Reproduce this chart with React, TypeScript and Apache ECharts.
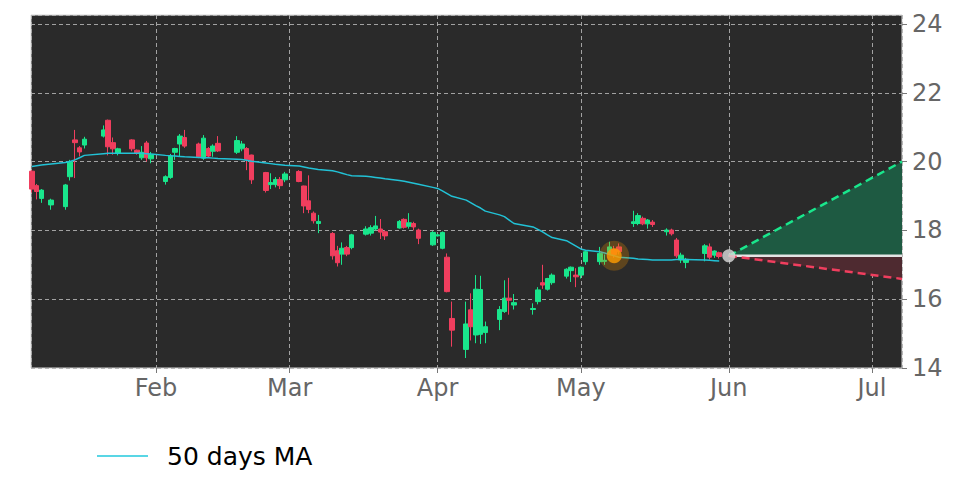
import { useEffect, useRef } from "react";
import * as echarts from "echarts";

// trading days shown in the chart (2025)
const dates = [
  "2025-01-06", "2025-01-07", "2025-01-08", "2025-01-10", "2025-01-13", "2025-01-14", "2025-01-15", "2025-01-16", "2025-01-17",
  "2025-01-21", "2025-01-22", "2025-01-23", "2025-01-24", "2025-01-27", "2025-01-28", "2025-01-29", "2025-01-30", "2025-01-31",
  "2025-02-03", "2025-02-04", "2025-02-05", "2025-02-06", "2025-02-07", "2025-02-10", "2025-02-11", "2025-02-12", "2025-02-13",
  "2025-02-14", "2025-02-18", "2025-02-19", "2025-02-20", "2025-02-21", "2025-02-24", "2025-02-25", "2025-02-26", "2025-02-27",
  "2025-02-28", "2025-03-03", "2025-03-04", "2025-03-05", "2025-03-06", "2025-03-07", "2025-03-10", "2025-03-11", "2025-03-12",
  "2025-03-13", "2025-03-14", "2025-03-17", "2025-03-18", "2025-03-19", "2025-03-20", "2025-03-21", "2025-03-24", "2025-03-25",
  "2025-03-26", "2025-03-27", "2025-03-28", "2025-03-31", "2025-04-01", "2025-04-02", "2025-04-03", "2025-04-04", "2025-04-07",
  "2025-04-08", "2025-04-09", "2025-04-10", "2025-04-11", "2025-04-14", "2025-04-15", "2025-04-16", "2025-04-17", "2025-04-21",
  "2025-04-22", "2025-04-23", "2025-04-24", "2025-04-25", "2025-04-28", "2025-04-29", "2025-04-30", "2025-05-01", "2025-05-02",
  "2025-05-05", "2025-05-06", "2025-05-07", "2025-05-08", "2025-05-09", "2025-05-12", "2025-05-13", "2025-05-14", "2025-05-15",
  "2025-05-16", "2025-05-19", "2025-05-20", "2025-05-21", "2025-05-22", "2025-05-23", "2025-05-27", "2025-05-28", "2025-05-29",
  "2025-05-30",
];

const opens = [
  19.72, 19.3, 18.93, 18.74, 18.69, 19.56, 20.63, 20.4, 20.48,
  20.74, 21.2, 20.55, 20.25, 20.63, 20.33, 20.11, 20.54, 20.08,
  19.42, 19.54, 20.27, 20.51, 20.7, 20.51, 20.1, 20.38, 20.3,
  20.53, 20.27, 20.37, 20.38, 20.19, 19.68, 19.33, 19.33, 19.48,
  19.47, 19.71, 19.29, 18.86, 18.5, 18.2, 17.91, 17.41, 17.31,
  17.5, 17.5, 17.89, 17.92, 18.04, 18.04, 17.96, 18.07, 18.32,
  18.12, 18.2, 18.01, 17.58, 17.84, 17.48, 17.22, 15.44, 14.54,
  15.69, 14.96, 14.98, 15.03, 15.41, 15.64, 16.03, 15.83, 15.7,
  15.93, 16.48, 16.29, 16.48, 16.67, 16.83, 16.7, 16.7, 17.09,
  17.09, 17.1, 17.33, 17.45, 17.52, 18.2, 18.2, 18.35, 18.19,
  18.24, 17.96, 18.01, 17.72, 17.14, 17.07, 17.33, 17.52, 17.28,
  17.35,
];

const closes = [
  19.2, 19.13, 19.17, 18.88, 19.32, 20.0, 20.55, 20.28, 20.65,
  20.92, 20.43, 20.37, 20.37, 20.37, 20.25, 20.27, 20.11, 20.2,
  19.56, 20.16, 20.38, 20.74, 20.45, 20.14, 20.68, 20.16, 20.45,
  20.31, 20.61, 20.51, 20.05, 19.47, 19.16, 19.39, 19.48, 19.3,
  19.64, 19.42, 18.71, 18.61, 18.28, 18.26, 17.26, 17.06, 17.48,
  17.31, 17.87, 18.04, 18.08, 18.13, 17.95, 17.84, 18.26, 18.09,
  18.22, 18.1, 17.77, 17.94, 17.87, 17.94, 16.22, 15.1, 15.28,
  15.2, 16.29, 16.28, 15.2, 15.7, 16.03, 15.97, 15.9, 15.73,
  16.27, 16.41, 16.6, 16.7, 16.87, 16.93, 16.65, 16.93, 17.38,
  17.33, 17.13, 17.52, 17.3, 17.38, 18.25, 18.43, 18.19, 18.3,
  18.17, 18.01, 17.9, 17.26, 17.28, 17.16, 17.55, 17.22, 17.4,
  17.24,
];

const lows = [
  19.1, 18.9, 18.8, 18.6, 18.6, 19.45, 19.52, 20.15, 20.38,
  20.7, 20.18, 20.2, 20.18, 20.3, 20.2, 20.05, 20.0, 19.95,
  19.33, 19.5, 20.05, 20.14, 20.4, 20.1, 20.05, 20.12, 20.14,
  20.28, 20.22, 20.3, 19.75, 19.35, 19.1, 19.2, 19.25, 19.2,
  19.4, 19.4, 18.5, 18.5, 18.2, 17.92, 17.15, 16.95, 17.0,
  17.25, 17.45, 17.85, 17.85, 18.0, 17.75, 17.72, 18.05, 18.05,
  18.05, 18.0, 17.6, 17.55, 17.82, 17.45, 16.2, 14.62, 14.29,
  14.8, 14.72, 14.7, 14.72, 15.1, 15.6, 15.55, 15.7, 15.55,
  15.85, 16.3, 16.25, 16.42, 16.6, 16.5, 16.35, 16.6, 17.0,
  17.0, 17.0, 17.3, 17.2, 17.3, 18.1, 18.15, 18.15, 18.05,
  18.1, 17.85, 17.85, 17.2, 17.05, 16.9, 17.1, 17.15, 17.2,
  17.18,
];

const highs = [
  19.75, 19.35, 19.2, 18.92, 19.35, 20.05, 20.92, 20.45, 20.72,
  21.05, 21.22, 20.7, 20.4, 20.65, 20.35, 20.45, 20.6, 20.28,
  19.6, 20.22, 20.4, 20.8, 20.92, 20.55, 20.77, 20.42, 20.5,
  20.74, 20.74, 20.6, 20.42, 20.2, 19.7, 19.66, 19.55, 19.55,
  19.7, 19.75, 19.3, 19.6, 18.55, 18.45, 17.95, 17.55, 17.65,
  17.55, 17.9, 18.12, 18.15, 18.42, 18.33, 18.0, 18.3, 18.35,
  18.5, 18.25, 18.05, 17.98, 17.9, 17.97, 17.33, 15.93, 15.93,
  16.17, 16.7, 16.68, 15.35, 15.8, 16.55, 16.62, 16.15, 15.88,
  16.35, 17.0, 16.62, 16.75, 16.9, 16.95, 16.9, 16.95, 17.42,
  17.52, 17.3, 17.67, 17.55, 17.62, 18.57, 18.5, 18.4, 18.33,
  18.3, 18.06, 18.05, 17.78, 17.35, 17.2, 17.6, 17.62, 17.42,
  17.38,
];

// 50 days moving average, one value per trading day
const maValues = [
  19.86, 19.88, 19.9, 19.93, 19.97, 20.0, 20.05, 20.11, 20.18,
  20.23, 20.24, 20.24, 20.24, 20.24, 20.24, 20.24, 20.23, 20.22,
  20.18, 20.17, 20.16, 20.15, 20.14, 20.12, 20.11, 20.11, 20.1,
  20.09, 20.07, 20.06, 20.04, 20.01, 19.96, 19.94, 19.92, 19.91,
  19.89, 19.87, 19.84, 19.81, 19.79, 19.77, 19.73, 19.7, 19.66,
  19.62, 19.59, 19.57, 19.56, 19.54, 19.52, 19.5, 19.45, 19.43,
  19.4, 19.37, 19.34, 19.25, 19.22, 19.15, 19.07, 18.99, 18.88,
  18.8, 18.72, 18.65, 18.56, 18.45, 18.4, 18.3, 18.2, 18.1,
  18.03, 17.96, 17.87, 17.79, 17.7, 17.62, 17.54, 17.46, 17.42,
  17.38, 17.34, 17.3, 17.26, 17.22, 17.19, 17.17, 17.16, 17.15,
  17.14, 17.14, 17.14, 17.15, 17.15, 17.15, 17.14, 17.13, 17.12,
  17.11,
];

const monthLabels = ["Jan", "Feb", "Mar", "Apr", "May", "Jun", "Jul", "Aug", "Sep", "Oct", "Nov", "Dec"];

// signal marker on the MA and the projection cone
const signalDate = "2025-05-08";
const signalValue = 17.26;
const coneStartDate = "2025-06-01";
const coneBase = 17.26;
const coneUpper = 20.0;
const coneLower = 16.59;

const X_MIN = Date.UTC(2025, 0, 5, 19, 40);
const X_MAX = Date.UTC(2025, 6, 7, 7);
const DAY = 86400000;

const ts = (d: string) => Date.parse(d + "T00:00:00Z");

const GREEN = "#19e68c";
const RED = "#f03e5e";
const FONT = "DejaVu Sans";

export default function App() {
  const ref = useRef<HTMLDivElement | null>(null);

  useEffect(() => {
    const el = ref.current!;
    const chart = echarts.init(el, undefined, { renderer: "svg" });

    const candles = dates.map((d, i) => [ts(d), opens[i], closes[i], lows[i], highs[i]]);
    const ma = dates.map((d, i) => [ts(d), maValues[i]]);
    const c0 = ts(coneStartDate);

    chart.setOption({
      animation: false,
      useUTC: true,
      backgroundColor: "#ffffff",
      textStyle: { fontFamily: FONT },
      grid: {
        left: 31, top: 15, width: 871, height: 353,
        show: true, backgroundColor: "#2a2a2a", borderColor: "#d4d4d4", borderWidth: 1,
      },
      xAxis: {
        type: "time",
        min: X_MIN,
        max: X_MAX,
        minInterval: 28 * DAY,
        maxInterval: 31 * DAY,
        axisLine: { show: false },
        axisTick: { show: true, length: 5, lineStyle: { color: "#777" } },
        axisLabel: {
          fontSize: 24, color: "#666", fontFamily: FONT, margin: 8,
          formatter: (v: number) => monthLabels[new Date(v).getUTCMonth()],
        },
        splitLine: { show: true, lineStyle: { color: "#b0b0b0", type: [4, 3], width: 0.9 } },
      },
      yAxis: {
        type: "value",
        position: "right",
        min: 14,
        max: 24.26,
        interval: 2,
        axisLine: { show: false },
        axisTick: { show: true, length: 5, lineStyle: { color: "#777" } },
        axisLabel: { fontSize: 24, color: "#666", fontFamily: FONT, margin: 10, showMaxLabel: false },
        splitLine: { show: true, lineStyle: { color: "#b0b0b0", type: [4, 3], width: 0.9 } },
      },
      graphic: [
        { type: "line", shape: { x1: 97, y1: 456, x2: 148, y2: 456 }, style: { stroke: "#22c9dc", lineWidth: 1.5 } },
        {
          type: "text", x: 167, y: 456,
          style: { text: "50 days MA", fill: "#000", font: `25px "${FONT}"`, verticalAlign: "middle" },
        },
      ],
      series: [
        {
          type: "custom",
          name: "cone",
          data: [[c0, coneBase, coneUpper, coneLower, X_MAX]],
          encode: { x: [0, 4], y: [1, 2, 3] },
          z: 1,
          renderItem: (_p: any, api: any) => {
            const t0 = api.value(0), b = api.value(1), up = api.value(2), lo = api.value(3), t1 = api.value(4);
            const p0 = api.coord([t0, b]);
            const pu = api.coord([t1, up]);
            const pb = api.coord([t1, b]);
            const pl = api.coord([t1, lo]);
            return {
              type: "group",
              children: [
                { type: "polygon", shape: { points: [p0, pu, pb] }, style: { fill: "#1e5a42" } },
                { type: "polygon", shape: { points: [p0, pb, pl] }, style: { fill: "#4e2a30" } },
              ],
            };
          },
        },
        {
          type: "line",
          data: [[c0, coneBase], [X_MAX, coneBase]],
          showSymbol: false,
          lineStyle: { color: "#e4e4e4", width: 2.5 },
          z: 2,
        },
        {
          type: "line",
          data: [[c0, coneBase], [X_MAX, coneUpper]],
          showSymbol: false,
          lineStyle: { color: GREEN, width: 2.5, type: [8, 5] },
          z: 3,
        },
        {
          type: "line",
          data: [[c0, coneBase], [X_MAX, coneLower]],
          showSymbol: false,
          lineStyle: { color: RED, width: 2.5, type: [8, 5] },
          z: 3,
        },
        {
          type: "candlestick",
          data: candles,
          barWidth: 5,
          z: 4,
          itemStyle: { color: GREEN, color0: RED, borderColor: GREEN, borderColor0: RED, borderWidth: 1 },
        },
        {
          type: "line",
          name: "50 days MA",
          data: ma,
          showSymbol: false,
          lineStyle: { color: "#22c2d6", width: 1.5 },
          z: 5,
        },
        {
          type: "scatter",
          data: [[ts(signalDate), signalValue]],
          symbolSize: 30,
          itemStyle: { color: "rgba(230,140,0,0.35)" },
          z: 6,
        },
        {
          type: "scatter",
          data: [[ts(signalDate), signalValue]],
          symbolSize: 15,
          itemStyle: { color: "#ff9c00" },
          z: 7,
        },
        {
          type: "scatter",
          data: [[c0, coneBase]],
          symbolSize: 13,
          itemStyle: { color: "#dcdcdc" },
          z: 7,
        },
      ],
    });

    return () => chart.dispose();
  }, []);

  return <div ref={ref} style={{ position: "fixed", left: 0, top: 0, width: 972, height: 486 }} />;
}
